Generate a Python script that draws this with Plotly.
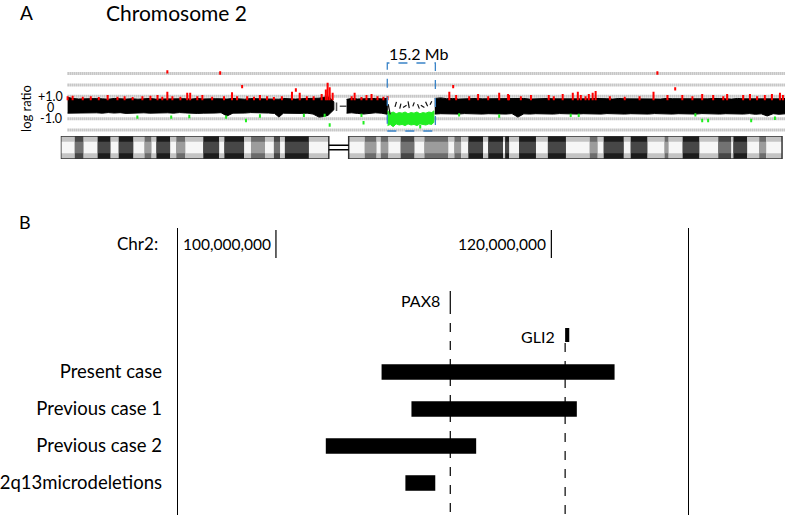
import plotly.graph_objects as go

# ---------------- data: panel A (chromosome 2 array CGH, positions in Mb) ----------------
chrom_len_mb = 244.0

# black band (log-ratio envelope) segments
seg1_pos = [2.3, 4, 6, 8, 10, 12, 14, 16, 18, 20, 22, 24, 26, 28, 30, 32, 34, 36, 38, 40, 42, 44, 46, 48,
            50, 52, 54, 56, 58, 60, 62, 64, 66, 68, 70, 72, 73.5, 75, 77, 79, 81, 83, 85, 87, 88.5, 90, 91, 92]
seg1_up = [0.9, 0.8, 0.76, 0.78, 0.74, 0.79, 0.77, 0.74, 0.8, 0.76, 0.75, 0.78, 0.74, 0.77, 0.8, 0.75, 0.76, 0.79,
           0.74, 0.77, 0.78, 0.75, 0.8, 0.76, 0.74, 0.78, 0.77, 0.75, 0.8, 0.76, 0.74, 0.79, 0.77, 0.75, 0.78, 0.76,
           0.74, 0.8, 0.77, 0.75, 0.78, 0.8, 0.76, 0.82, 0.9, 0.95, 0.8, 0.5]
seg1_lo = [-0.5, -0.46, -0.5, -0.44, -0.48, -0.47, -0.5, -0.45, -0.49, -0.46, -0.52, -0.45, -0.48, -0.47, -0.5,
           -0.45, -0.49, -0.47, -0.5, -0.45, -0.48, -0.47, -0.52, -0.5, -0.47, -0.49, -0.46, -0.75, -0.5, -0.47, -0.49,
           -0.45, -0.5, -0.47, -0.49, -0.52, -0.85, -0.5, -0.47, -0.5, -0.52, -0.5, -0.58, -0.85, -0.8, -0.7, -0.5, -0.2]
seg2_pos = [96.3, 98, 100, 102, 104, 106, 108, 110]
seg2_up = [0.72, 0.8, 0.76, 0.78, 0.74, 0.8, 0.77, 0.8]
seg2_lo = [-0.5, -0.47, -0.52, -0.58, -0.5, -0.47, -0.5, -0.6]
seg3_pos = [126.0, 128, 130, 132, 134, 136, 138, 140, 142, 144, 146, 148, 150, 152, 154, 156, 158, 160, 162, 164,
            166, 168, 170, 172, 174, 176, 178, 180, 182, 184, 186, 188, 190, 192, 194, 196, 198, 200, 202, 204, 206,
            208, 210, 212, 214, 216, 218, 220, 222, 224, 226, 228, 230, 232, 234, 236, 238, 240, 242, 244]
seg3_up = [0.8, 0.85, 0.78, 0.8, 0.75, 0.78, 0.76, 0.8, 0.77, 0.78, 0.75, 0.8, 0.77, 0.76, 0.78, 0.8, 0.75, 0.78,
           0.76, 0.8, 0.77, 0.76, 0.78, 0.8, 0.75, 0.78, 0.77, 0.8, 0.76, 0.78, 0.75, 0.8, 0.77, 0.78, 0.76, 0.8, 0.77,
           0.76, 0.75, 0.8, 0.78, 0.77, 0.76, 0.8, 0.75, 0.78, 0.77, 0.8, 0.76, 0.78, 0.75, 0.8, 0.77, 0.76, 0.78, 0.8,
           0.75, 0.78, 0.77, 0.8]
seg3_lo = [-0.58, -0.55, -0.6, -0.56, -0.58, -0.54, -0.6, -0.56, -0.58, -0.55, -0.6, -0.56, -0.58, -0.54, -0.85,
           -0.56, -0.58, -0.55, -0.6, -0.56, -0.58, -0.54, -0.6, -0.56, -0.58, -0.55, -0.6, -0.56, -0.58, -0.54, -0.6,
           -0.56, -0.58, -0.55, -0.6, -0.56, -0.58, -0.54, -0.6, -0.56, -0.58, -0.55, -0.6, -0.56, -0.58, -0.54, -0.6,
           -0.56, -0.58, -0.55, -0.6, -0.56, -0.58, -0.54, -0.6, -0.56, -0.75, -0.55, -0.6, -0.56]

# deleted region (green band) and sparse black probes inside it
del_pos = [110.1, 111, 112, 113, 114, 115, 116, 117, 118, 119, 120, 121, 122, 123, 124, 125, 125.7]
del_up = [-0.3, -0.5, -0.4, -0.55, -0.45, -0.5, -0.4, -0.55, -0.45, -0.5, -0.4, -0.55, -0.45, -0.5, -0.4, -0.45, -0.3]
del_lo = [-1.6, -1.5, -1.7, -1.45, -1.55, -1.5, -1.6, -1.45, -1.55, -1.5, -1.6, -1.45, -1.5, -1.55, -1.45, -1.5, -1.3]
del_black_pos = [110.3, 111.0, 112.6, 113.1, 114.2, 114.6, 115.3, 116.5, 117.0, 117.4, 118.6, 119.1, 120.2, 120.8,
                 121.3, 122.5, 122.9, 123.6, 124.4, 125.0, 125.5]
del_black_val = [0.3, -0.6, 0.05, 0.5, -0.1, 0.35, 0.0, 0.2, 0.55, -0.05, 0.1, 0.45, 0.3, -0.1, 0.2, 0.0, 0.5, 0.1,
                 0.25, 0.55, 0.2]

# outlier probes: gains (red) and losses (green)
red_pos = [2.3, 4.0, 7.4, 10.1, 12.8, 15.8, 19.1, 21.5, 24.2, 27.5, 30.2, 32.6, 34.2, 35.9, 35.9, 37.6, 40.3, 42.6,
           43.6, 46.0, 47.7, 51.0, 53.7, 55.0, 57.7, 59.4, 61.1, 62.8, 65.1, 67.1, 69.5, 71.8, 74.5, 77.9, 79.2, 80.5,
           82.9, 85.2, 87.9, 89.3, 89.9, 90.6, 91.6, 98.0, 99.0, 101.3, 103.0, 104.7, 106.7, 108.7, 110.1, 130.9,
           132.2, 133.2, 137.6, 140.6, 144.0, 147.7, 150.7, 151.0, 155.0, 158.4, 164.4, 166.1, 169.1, 172.5, 174.2,
           175.2, 176.8, 177.9, 179.2, 180.2, 185.0, 190.0, 195.0, 199.7, 201.0, 204.4, 207.0, 209.4, 212.8, 216.1,
           219.8, 223.2, 224.5, 229.9, 232.2, 234.6, 237.2, 239.6, 242.3, 243.3]
red_top = [1.0, 1.05, 0.95, 1.0, 0.92, 1.1, 0.95, 1.0, 0.92, 1.0, 1.05, 1.1, 0.95, 1.4, 3.3, 1.0, 0.95, 1.3, 1.3, 1.0,
           1.1, 0.95, 3.2, 1.0, 1.35, 1.0, 2.0, 1.0, 0.95, 1.1, 1.0, 0.92, 1.0, 1.4, 1.7, 1.3, 1.0, 1.0, 1.2, 1.6, 2.2,
           1.8, 1.3, 1.0, 1.3, 0.92, 1.1, 1.2, 1.0, 0.95, 1.0, 1.4, 2.0, 1.1, 1.0, 1.2, 1.0, 1.3, 1.2, 1.1, 1.0, 1.1,
           1.1, 1.0, 1.2, 1.3, 1.4, 1.1, 1.0, 1.2, 1.3, 1.45, 1.0, 0.95, 1.0, 1.4, 3.2, 1.1, 1.8, 1.1, 1.0, 1.2, 1.1,
           1.0, 1.2, 1.1, 1.2, 1.0, 1.1, 1.2, 1.3, 1.1]
green_pos = [25.8, 37.2, 43.3, 55.7, 62.4, 67.1, 81.9, 88.9, 90.6, 101.3, 102.0, 121.1, 134.2, 147.7, 171.8, 174.5,
             213.8, 216.1, 218.1, 232.6, 240.6]
green_bot = [-1.0, -1.0, -0.95, -1.0, -1.3, -0.9, -0.85, -0.85, -1.7, -0.85, -1.5, -1.85, -0.8, -0.9, -0.85, -0.85,
             -0.8, -1.3, -1.3, -1.3, -1.1]

# ideogram bands (Mb) and their stain
band_edges = [0, 4.7, 7.7, 12.4, 16.8, 19.5, 24.5, 28.2, 30.6, 32.2, 36.9, 38.9, 42.0, 48.0, 53.4, 55.1, 61.8, 64.1,
              68.8, 71.8, 73.9, 75.5, 83.6, 90.3]
band_stain = ["L", "MD", "L", "D", "L", "D", "L", "M", "L", "D", "L", "M", "L", "D", "L", "D", "L", "M", "L", "MD",
              "L", "D", "L"]
qband_edges = [97.0, 102.4, 106.4, 107.8, 110.4, 114.5, 119.2, 122.5, 130.6, 132.6, 134.9, 137.3, 142.3, 144.0, 149.0,
               149.7, 151.1, 154.4, 160.1, 164.1, 170.2, 178.2, 180.9, 182.9, 189.7, 192.0, 197.7, 203.4, 204.8,
               209.5, 215.2, 221.5, 225.9, 226.6, 231.3, 235.3, 237.7, 243.0]
qband_stain = ["L", "M", "L", "M", "L", "MD", "L", "M", "L", "M", "L", "D", "L", "D", "L", "D", "L", "D", "L", "D",
               "L", "M", "L", "D", "L", "D", "L", "M", "L", "D", "L", "MD", "L", "D", "L", "M", "L"]
deletion_mb = [110.0, 126.2]
deletion_label = "15.2 Mb"

# ---------------- data: panel B ----------------
case_names = ["Present case", "Previous case 1", "Previous case 2", "2q13microdeletions"]
case_start = [107.67, 109.84, 103.62, 109.40]
case_end = [124.59, 121.85, 114.54, 111.57]
gene_names = ["PAX8", "GLI2"]
gene_start = [112.66, 121.0]
gene_end = [112.66, 121.3]
axis_ticks = [100.0, 120.0]
axis_tick_labels = ["100,000,000", "120,000,000"]
region_mb = [92.875, 129.95]

# ---------------- layout helpers (pixel geometry) ----------------
W, H = 787, 518
FONT = "Lato"


def px(x):
    return x / W


def py(y):
    return 1 - y / H


zero_px, unit_px = 107.5, 11.3
A_top, A_bot = 40, 134
yA_range = [(zero_px - A_bot) / unit_px, (zero_px - A_top) / unit_px]
B_top, B_bot = 228, 515
row0_px, row_px = 372, 37
yB_range = [(B_bot - row0_px) / row_px, (B_top - row0_px) / row_px]

fig = go.Figure()

# ---- ideogram (xaxis x, yaxis y3) ----
shade_edge = {"L": "#c4c4c4", "M": "#6c6c6c", "MD": "#474747", "D": "#1c1c1c"}
shade_mid = {"L": "#f6f6f6", "M": "#9c9c9c", "MD": "#727272", "D": "#474747"}
for edges, stains in [(band_edges, band_stain), (qband_edges, qband_stain)]:
    starts = edges[:-1]
    widths = [b - a for a, b in zip(edges[:-1], edges[1:])]
    fig.add_trace(go.Bar(orientation="h", y=[0] * len(starts), base=starts, x=widths, width=1.0,
                         marker=dict(color=[shade_edge[s] for s in stains], line=dict(width=0)),
                         xaxis="x", yaxis="y3", hoverinfo="skip", showlegend=False))
    fig.add_trace(go.Bar(orientation="h", y=[0] * len(starts), base=starts, x=widths, width=0.5,
                         marker=dict(color=[shade_mid[s] for s in stains], line=dict(width=0)),
                         xaxis="x", yaxis="y3", hoverinfo="skip", showlegend=False))

# ---- gridlines for panel A ----
shapes = []
for gv in [3, 2, 1, -1, -2]:
    shapes.append(dict(type="line", xref="x", yref="y", x0=seg1_pos[0], x1=chrom_len_mb, y0=gv, y1=gv,
                       line=dict(color="#a2a2a2", width=3, dash="1px,1px"), layer="below"))


# ---- black band ----
def band_trace(pos, up, lo, color):
    return go.Scatter(x=pos + pos[::-1], y=up + lo[::-1], fill="toself", fillcolor=color, mode="lines",
                      line=dict(color=color, width=1), xaxis="x", yaxis="y", hoverinfo="skip", showlegend=False)


for p, u, l in [(seg1_pos, seg1_up, seg1_lo), (seg2_pos, seg2_up, seg2_lo), (seg3_pos, seg3_up, seg3_lo)]:
    fig.add_trace(band_trace(p, u, l, "#000000"))
fig.add_trace(band_trace(del_pos, del_up, del_lo, "#22ee22"))

# small probes at centromere
fig.add_trace(go.Scatter(x=[92.9, 92.9, None, 94.0, 96.3], y=[-0.3, 0.45, None, 0.1, 0.1], mode="lines",
                         line=dict(color="#555555", width=1.5), xaxis="x", yaxis="y", hoverinfo="skip",
                         showlegend=False))

# sparse black probes inside deletion
bx, by = [], []
for i, (p, v) in enumerate(zip(del_black_pos, del_black_val)):
    bx.append(p)
    by.append(v)
    if i % 2 == 1:
        bx.append(None)
        by.append(None)
fig.add_trace(go.Scatter(x=bx, y=by, mode="lines", line=dict(color="#111111", width=1.2), xaxis="x", yaxis="y",
                         hoverinfo="skip", showlegend=False))

# red and green outliers
rx, ry = [], []
for p, t in zip(red_pos, red_top):
    lo = 0.65 if t <= 1.5 or (88 < p < 92) else t - 0.3
    rx += [p, p, None]
    ry += [lo, t, None]
fig.add_trace(go.Scatter(x=rx, y=ry, mode="lines", line=dict(color="#ff0000", width=2), xaxis="x", yaxis="y",
                         hoverinfo="skip", showlegend=False))
gx, gy = [], []
for p, b in zip(green_pos, green_bot):
    gx += [p, p, None]
    gy += [b + 0.3, b, None]
fig.add_trace(go.Scatter(x=gx, y=gy, mode="lines", line=dict(color="#22ee22", width=2), xaxis="x", yaxis="y",
                         hoverinfo="skip", showlegend=False))

# deletion box
shapes.append(dict(type="rect", xref="x", yref="paper", x0=deletion_mb[0], x1=deletion_mb[1], y0=py(131),
                   y1=py(63), line=dict(color="#3a84c8", width=1.3, dash="dash")))

# ideogram outlines and centromere
for x0, x1 in [(band_edges[0], band_edges[-1]), (qband_edges[0], qband_edges[-1])]:
    shapes.append(dict(type="rect", xref="x", yref="y3", x0=x0, x1=x1, y0=-0.5, y1=0.5,
                       line=dict(color="#333333", width=1.5)))
for cy in [-0.1, 0.1]:
    shapes.append(dict(type="line", xref="x", yref="y3", x0=band_edges[-1], x1=qband_edges[0], y0=cy, y1=cy,
                       line=dict(color="#000000", width=1.5)))

# ---- panel B ----
fig.add_trace(go.Bar(orientation="h", y=list(range(len(case_names))), base=case_start,
                     x=[e - s for s, e in zip(case_start, case_end)], width=0.42,
                     marker=dict(color="#000000", line=dict(width=0)), xaxis="x2", yaxis="y2",
                     hoverinfo="skip", showlegend=False))
# GLI2 gene block
fig.add_trace(go.Bar(orientation="h", y=[-1], base=[gene_start[1]], x=[gene_end[1] - gene_start[1]], width=0.38,
                     marker=dict(color="#000000", line=dict(width=0)), xaxis="x2", yaxis="y2",
                     hoverinfo="skip", showlegend=False))
# PAX8 mark
shapes.append(dict(type="line", xref="x2", yref="paper", x0=gene_start[0], x1=gene_start[0], y0=py(291), y1=py(305),
                   line=dict(color="#000000", width=1.2)))
# dashed gene lines
for gx0, top in zip(gene_start, [305, 343]):
    shapes.append(dict(type="line", xref="x2", yref="paper", x0=gx0, x1=gx0, y0=py(top), y1=py(B_bot),
                       line=dict(color="#000000", width=1.2, dash="dash")))
# coordinate ticks
for t in axis_ticks:
    shapes.append(dict(type="line", xref="x2", yref="paper", x0=t, x1=t, y0=py(230), y1=py(258),
                       line=dict(color="#000000", width=1.2)))

annotations = []


def txt(text, x, y, size, xanchor="center", xref="paper", yref="paper", angle=0):
    annotations.append(dict(text=text, x=x, y=y, xref=xref, yref=yref, xanchor=xanchor, yanchor="middle",
                            showarrow=False, textangle=angle, font=dict(family=FONT, size=size, color="#000000")))


txt("A", px(24), py(13), 19)
txt("Chromosome 2", px(174), py(13), 21)
txt("B", px(22), py(222), 18)
txt(deletion_label, px(417), py(53), 16)
txt("log ratio", px(23), py(108), 13, angle=-90)
for v, s in [(1, "+1.0"), (0, "0"), (-1, "-1.0")]:
    txt(s, px(48), v, 12.5, yref="y")
txt("Chr2:", px(158), py(243), 17, xanchor="right")
for t, lab in zip(axis_ticks, axis_tick_labels):
    annotations.append(dict(text=lab, x=t, y=py(244), xref="x2", yref="paper", xanchor="right", yanchor="middle",
                            xshift=-3, showarrow=False, font=dict(family=FONT, size=15.5, color="#000000")))
for name, g, ypix in zip(gene_names, gene_start, [300, 336]):
    annotations.append(dict(text=name, x=g, y=py(ypix), xref="x2", yref="paper", xanchor="right", yanchor="middle",
                            xshift=-8, showarrow=False, font=dict(family=FONT, size=16, color="#000000")))

fig.update_layout(
    width=W, height=H, margin=dict(l=0, r=0, t=0, b=0),
    paper_bgcolor="white", plot_bgcolor="rgba(0,0,0,0)",
    barmode="overlay", showlegend=False,
    shapes=shapes, annotations=annotations,
    xaxis=dict(domain=[px(58), px(785)], range=[0, chrom_len_mb], visible=False, anchor="y"),
    yaxis=dict(domain=[py(A_bot), py(A_top)], range=yA_range, visible=False, anchor="x"),
    yaxis3=dict(domain=[py(159), py(136)], range=[-0.5, 0.5], visible=False, anchor="x"),
    xaxis2=dict(domain=[px(175.5), px(688)], range=region_mb, visible=False, anchor="y2"),
    yaxis2=dict(domain=[py(B_bot), py(B_top)], range=yB_range, anchor="x2",
                tickvals=list(range(len(case_names))), ticktext=case_names, ticks="",
                ticklabelstandoff=11, showgrid=False, zeroline=False,
                showline=True, mirror=True, linecolor="#000000", linewidth=1.2,
                tickfont=dict(family=FONT, size=18.5, color="#000000")),
)

fig.write_html("out.html", config={"displayModeBar": False},
               post_script="document.body.style.margin='0px';")
